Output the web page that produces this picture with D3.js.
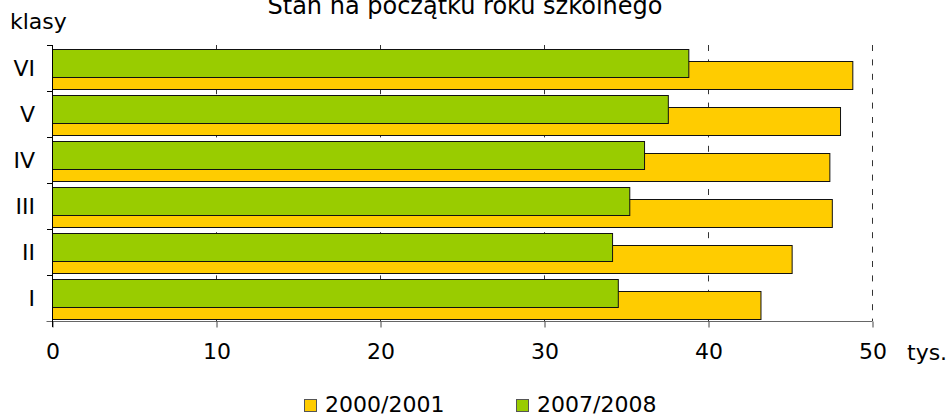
<!DOCTYPE html>
<html>
<head>
<meta charset="utf-8">
<script src="https://cdn.jsdelivr.net/npm/d3@7"></script>
<style>
  body { margin: 0; background: #fff; }
  text { font-family: "DejaVu Sans", Verdana, sans-serif; fill: #000; }
</style>
</head>
<body>
<div id="chart"></div>
<script>
const classes = ["VI", "V", "IV", "III", "II", "I"];
const values2000 = [48.8, 48.05, 47.4, 47.55, 45.1, 43.2];
const values2007 = [38.8, 37.55, 36.1, 35.2, 34.15, 34.5];
const xTicks = [0, 10, 20, 30, 40, 50];
const seriesNames = ["2000/2001", "2007/2008"];
const seriesColors = ["#ffcc00", "#99cc00"];

let w = 950;
let h = 415;
let marginTop = 45;
let marginBottom = 94;
let marginLeft = 52;
let plotRight = 872;
let fontSize = "22px";

let x = d3.scaleLinear().domain([0, 50]).range([marginLeft, plotRight]);
let y = d3
  .scaleBand()
  .domain(classes)
  .range([marginTop, h - marginBottom]);

let bw = y.bandwidth();
let barH = bw * 0.61;

let svg = d3
  .select("#chart")
  .append("svg")
  .attr("width", w)
  .attr("height", h);

// title (cut at the top in the original)
svg
  .append("text")
  .attr("x", 465)
  .attr("y", 14)
  .attr("text-anchor", "middle")
  .style("font-size", "24px")
  .text("Stan na początku roku szkolnego");

svg
  .append("text")
  .attr("x", 10)
  .attr("y", 29)
  .style("font-size", fontSize)
  .text("klasy");

// dashed gridlines
svg
  .append("g")
  .selectAll("line")
  .data(xTicks.slice(1))
  .enter()
  .append("line")
  .attr("x1", function (d) { return Math.round(x(d)) + 0.5; })
  .attr("x2", function (d) { return Math.round(x(d)) + 0.5; })
  .attr("y1", marginTop)
  .attr("y2", h - marginBottom)
  .attr("stroke", "#333")
  .attr("stroke-dasharray", "6,8.4");

let rows = classes.map(function (c, i) {
  return { name: c, a: values2000[i], b: values2007[i] };
});

// 2000/2001 bars (behind)
svg
  .append("g")
  .selectAll("rect")
  .data(rows)
  .enter()
  .append("rect")
  .attr("x", x(0) + 0.5)
  .attr("y", function (d) { return Math.round(y(d.name) + bw * 0.355) + 0.5; })
  .attr("width", function (d) { return x(d.a) - x(0); })
  .attr("height", Math.round(barH))
  .attr("fill", seriesColors[0])
  .attr("stroke", "#111");

// 2007/2008 bars (front)
svg
  .append("g")
  .selectAll("rect")
  .data(rows)
  .enter()
  .append("rect")
  .attr("x", x(0) + 0.5)
  .attr("y", function (d) { return Math.round(y(d.name) + bw * 0.094) + 0.5; })
  .attr("width", function (d) { return x(d.b) - x(0); })
  .attr("height", Math.round(barH))
  .attr("fill", seriesColors[1])
  .attr("stroke", "#111");

// bottom axis
let xAxis = d3.axisBottom(x).tickValues(xTicks).tickSize(6).tickPadding(16);
let gx = svg
  .append("g")
  .attr("transform", `translate(0.5,${h - marginBottom + 0.5})`)
  .call(xAxis);
gx.select(".domain").attr("stroke", "#666").attr("d", `M${marginLeft - 6},0H${plotRight}`);
gx.selectAll(".tick line").attr("stroke", "#444");
gx.selectAll(".tick text").style("font-size", fontSize).attr("fill", "#000");

svg
  .append("text")
  .attr("x", 907)
  .attr("y", 360)
  .style("font-size", fontSize)
  .text("tys.");

// left axis: boundary ticks and category labels
let gy = svg.append("g");
gy.append("line")
  .attr("x1", marginLeft + 0.5)
  .attr("x2", marginLeft + 0.5)
  .attr("y1", marginTop)
  .attr("y2", h - marginBottom + 6)
  .attr("stroke", "#000");
gy.selectAll(".bt")
  .data(classes)
  .enter()
  .append("line")
  .attr("x1", marginLeft - 5)
  .attr("x2", marginLeft)
  .attr("y1", function (d) { return Math.round(y(d)) + 0.5; })
  .attr("y2", function (d) { return Math.round(y(d)) + 0.5; })
  .attr("stroke", "#000");
gy.selectAll("text")
  .data(classes)
  .enter()
  .append("text")
  .attr("x", 35)
  .attr("y", function (d) { return y(d) + bw / 2 + 8; })
  .attr("text-anchor", "end")
  .style("font-size", fontSize)
  .text(function (d) { return d; });

// legend
let legendX = [304, 516];
let legend = svg
  .append("g")
  .selectAll("g")
  .data(seriesNames)
  .enter()
  .append("g")
  .attr("transform", function (d, i) { return `translate(${legendX[i]},399)`; });
legend
  .append("rect")
  .attr("x", 0.5)
  .attr("y", 0.5)
  .attr("width", 12)
  .attr("height", 12)
  .attr("fill", function (d, i) { return seriesColors[i]; })
  .attr("stroke", "#555");
legend
  .append("text")
  .attr("x", 21)
  .attr("y", 13)
  .style("font-size", fontSize)
  .text(function (d) { return d; });
</script>
</body>
</html>
